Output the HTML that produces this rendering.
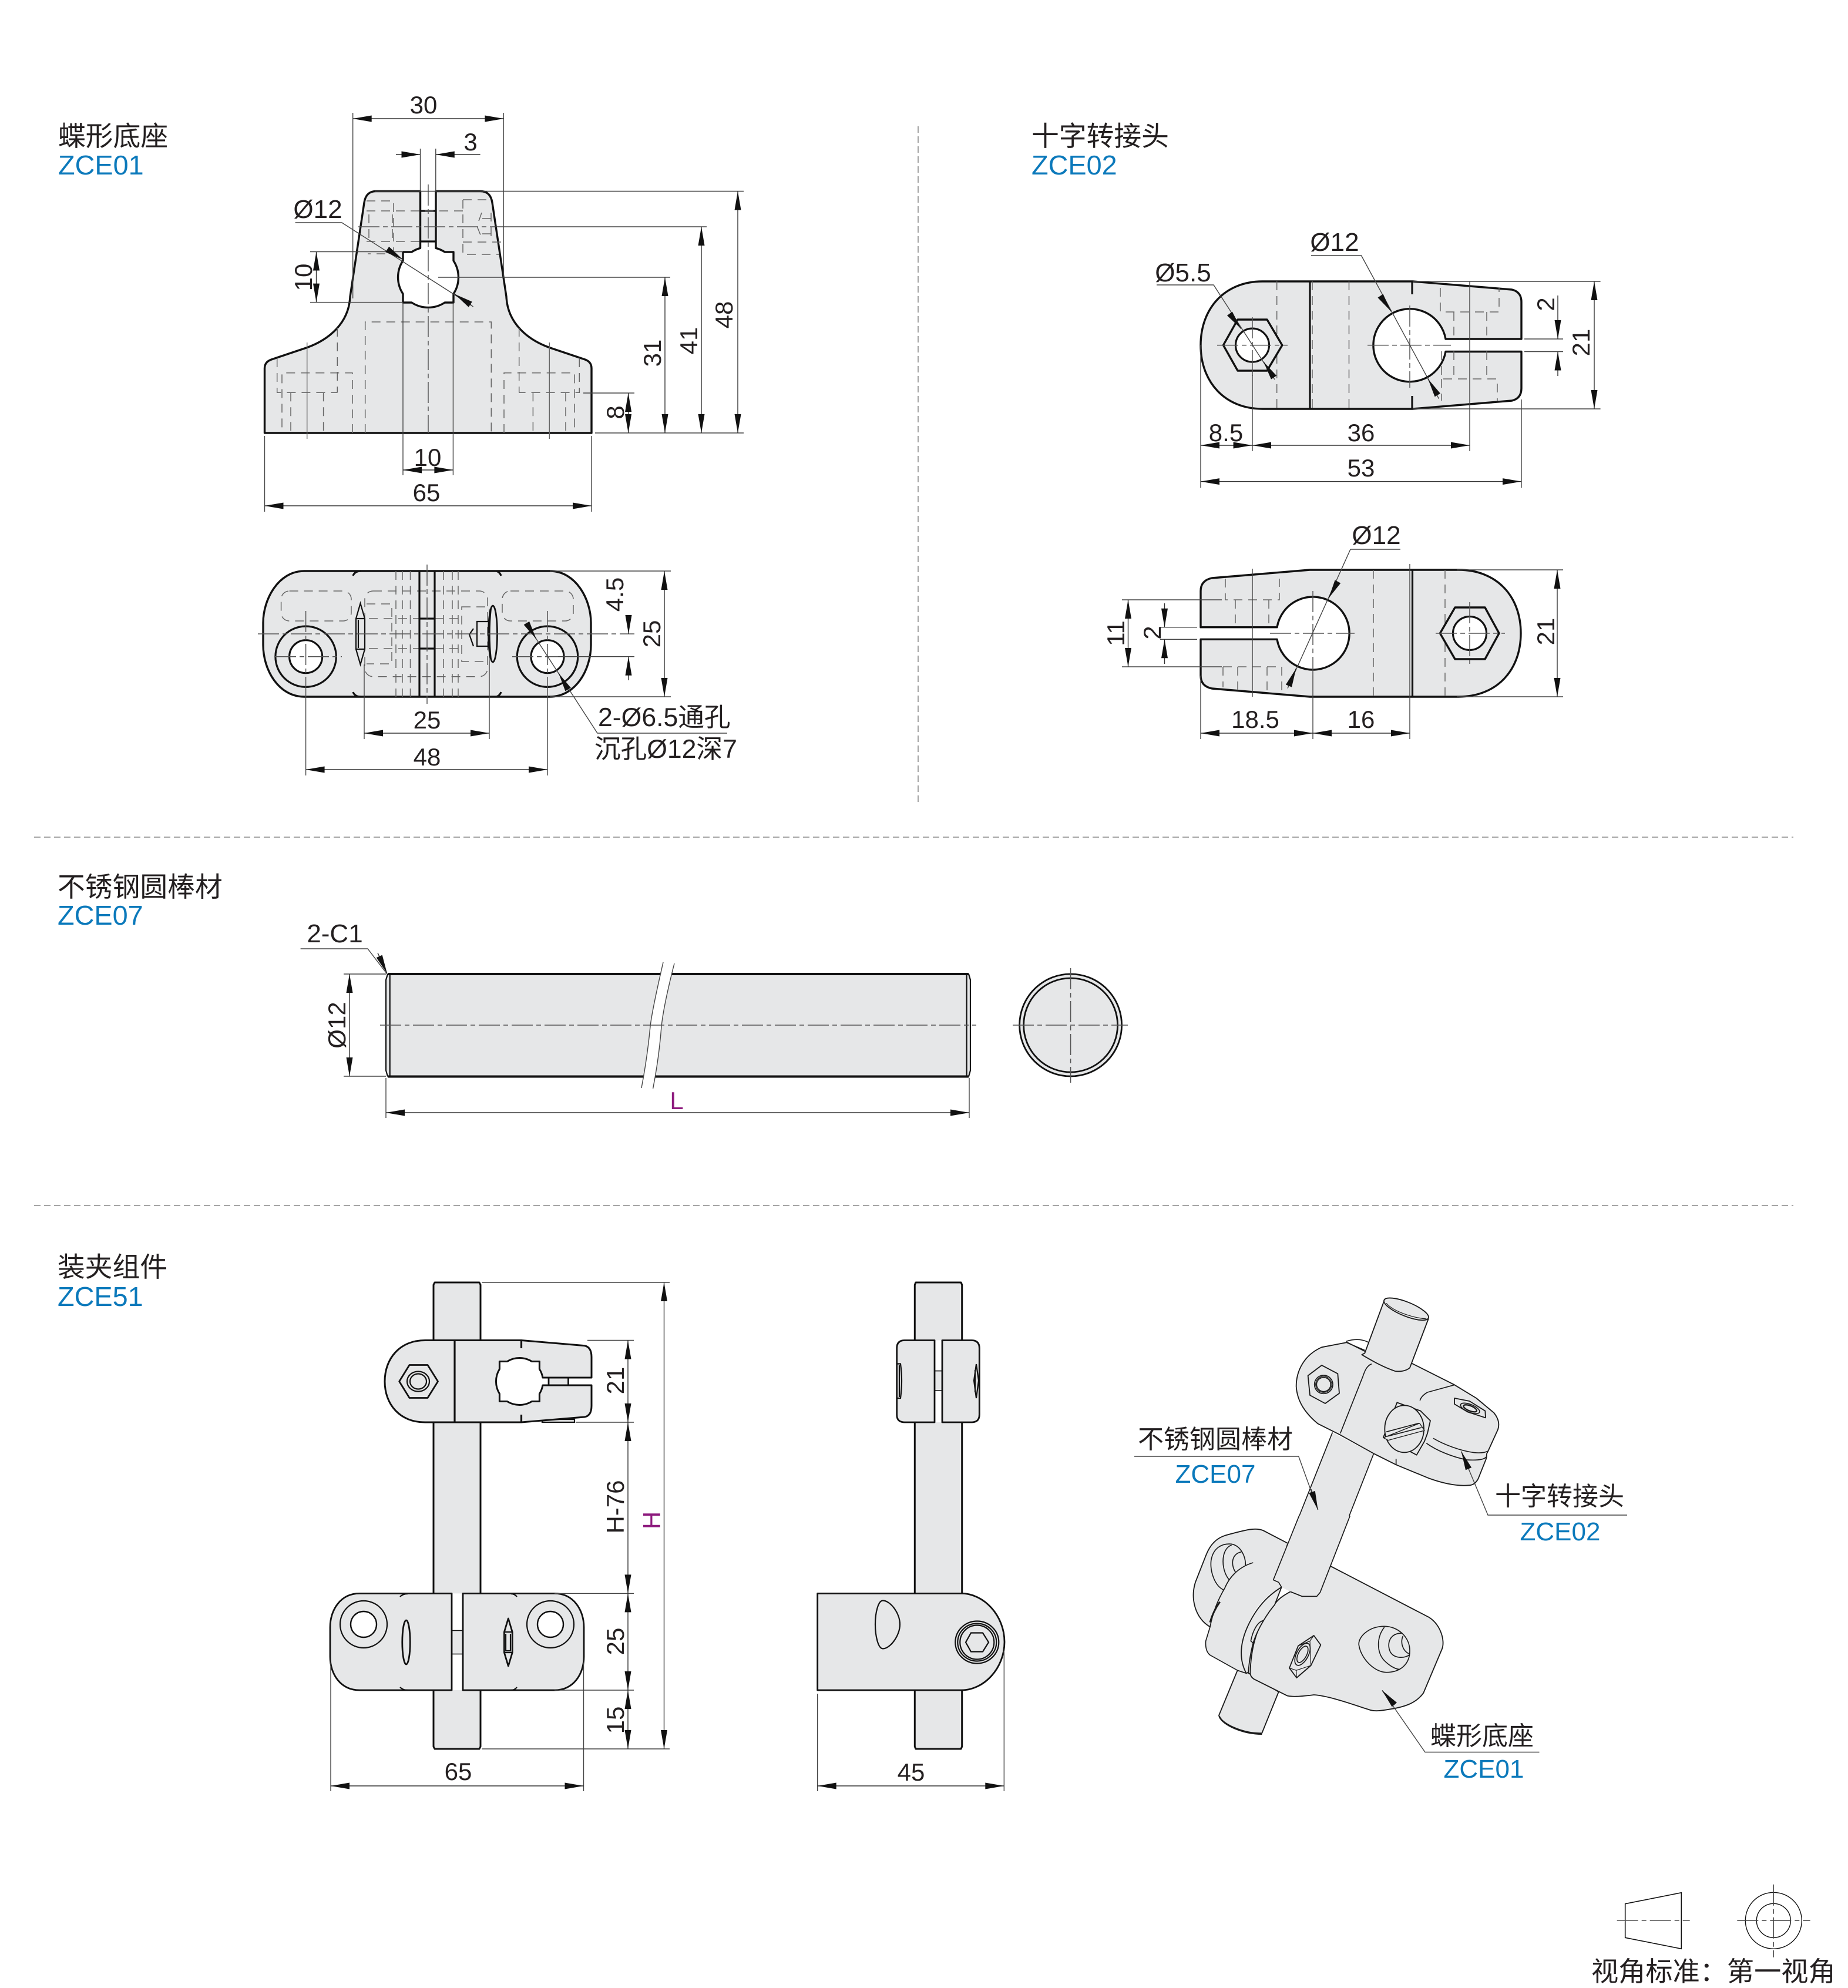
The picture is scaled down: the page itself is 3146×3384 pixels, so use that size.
<!DOCTYPE html>
<html><head><meta charset="utf-8"><style>
html,body{margin:0;padding:0;background:#fff}
svg{display:block}
text{font-family:"Liberation Sans","Noto Sans CJK SC",sans-serif;fill:#231f20;font-size:42px}
.m{text-anchor:middle}
.lb{font-size:46.8px}
.bl{fill:#0b79bb;font-size:46.8px}
.mg{fill:#8e1b7e}
.dia{font-size:44px}
.iso{font-size:44px}
.isb{font-size:44px;fill:#0b79bb}
.o{fill:#e6e7e8;stroke:#111;stroke-width:3.4;stroke-linejoin:round}
.o2{fill:#e6e7e8;stroke:#111;stroke-width:2.8;stroke-linejoin:round}
.n{fill:none;stroke:#111;stroke-width:3.2}
.n2{fill:none;stroke:#111;stroke-width:2.2}
.w{fill:#fff;stroke:#111;stroke-width:3.2}
.r{fill:#e6e7e8;stroke:none}
.th{fill:none;stroke:#444;stroke-width:1.4}
.ds{fill:none;stroke:#666;stroke-width:1.5;stroke-dasharray:15 10}
.cl{fill:none;stroke:#555;stroke-width:1.5;stroke-dasharray:36 6 8 6}
.dv{fill:none;stroke:#999;stroke-width:1.8;stroke-dasharray:11 6}
.dm{fill:none;stroke:#333;stroke-width:1.4;marker-start:url(#a);marker-end:url(#a)}
.me{fill:none;stroke:#333;stroke-width:1.4;marker-end:url(#a)}
.g{fill:#e6e7e8;stroke:#1a1a1a;stroke-width:5.5;stroke-linejoin:round}
.gf{fill:#e6e7e8;stroke:none}
.gl{fill:none;stroke:#1a1a1a;stroke-width:5;stroke-linejoin:round}
.gt{fill:none;stroke:#1a1a1a;stroke-width:3.5}
</style></head><body>
<svg xmlns="http://www.w3.org/2000/svg" width="3146" height="3384" viewBox="0 0 3146 3384">
<defs><marker id="a" markerUnits="userSpaceOnUse" markerWidth="36" markerHeight="14" viewBox="-34 -7 36 14" refX="0" refY="0" orient="auto-start-reverse"><path d="M0,0L-32,-5.5V5.5Z" fill="#111"/></marker></defs>
<rect width="3146" height="3384" fill="#fff"/>

<!-- dividers -->
<path class="dv" d="M1563,215V1366M58,1425H3053M58,2052H3053"/>

<!-- section labels -->
<text class="lb" x="99" y="248">蝶形底座</text><text class="bl" x="99" y="297">ZCE01</text>
<text class="lb" x="1756" y="248">十字转接头</text><text class="bl" x="1756" y="297">ZCE02</text>
<text class="lb" x="98" y="1526">不锈钢圆棒材</text><text class="bl" x="98" y="1574">ZCE07</text>
<text class="lb" x="98" y="2173">装夹组件</text><text class="bl" x="98" y="2223">ZCE51</text>

<!-- VIEW 1 -->
<rect class="r" x="716" y="359" width="26" height="52"/>
<path class="o" d="M450.5,737V627Q450.5,616 462,612L523,591.5C560,578 594,550 596,505L620,345Q623,325.5 640,325.5H715.5V422.3A51.4,51.4 0 0 0 700.8,429H686V443.8A51.4,51.4 0 0 0 686,500.2V515H700.8A51.4,51.4 0 0 0 757.2,515H772V500.2A51.4,51.4 0 0 0 772,443.8V429H757.2A51.4,51.4 0 0 0 742,422.3V325.5H818Q835,325.5 838,345L862,505C864,550 898,578 935,591.5L996,612Q1007,616 1007,627V737Z"/>
<path class="n" d="M716,359H742M716,411H742"/>
<path class="ds" d="M624,342H670V432H626M624,359H715M624,411H715M628,365V410M668,365V410M788,340H838M788,340V433H849M788,359H716M788,412H860M836,362V412M820,362L812,385L820,405M836,372H816M836,398H816"/>
<path class="cl" d="M610,386H838"/>
<path class="ds" d="M621.7,737V548H836.3V737M574.3,558V668.3M883.7,558V668.3"/>
<path class="ds" d="M600,737V634.7H480V737M471.7,610V668.3H574.3M495,668.3V737M550.6,668.3V737"/>
<path class="ds" d="M858,737V634.7H978V737M986.3,610V668.3H883.7M963,668.3V737M907.4,668.3V737"/>
<path class="th" style="stroke:#666" d="M522.7,583V747M935.3,583V747"/>
<path class="th" d="M686,515V809M771.4,515V809"/>
<path class="cl" d="M729,314V737"/>
<path class="th" d="M600.7,192V508M857.4,192V472M715.5,253V325M741.8,253V325M638,325.5H1266M838,386H1203M746,472H1141M993,669H1080M1013,737H1266M528,428.5H686M528,514.6H686M450.5,742V871M1007,742V871"/>
<path class="dm" d="M600.7,202H857.4"/>
<path class="me" d="M674,263H715.5"/><path class="me" d="M817.6,263H741.8"/>
<path class="dm" d="M1256,325.5V737"/><path class="dm" d="M1194,386V737"/><path class="dm" d="M1132,472V737"/><path class="dm" d="M1069.6,669V737"/>
<path class="dm" d="M538.5,428.5V514.6"/><path class="dm" d="M686,800H771.4"/><path class="dm" d="M450.5,861H1007"/>
<path class="th" d="M502.6,379H582L805.6,522"/>
<path class="me" d="M660,425L686,442"/><path class="me" d="M802,519L774,500.6"/>
<text class="m" x="721" y="193">30</text><text class="m" x="801" y="256">3</text>
<text class="m dia" x="541" y="371">Ø12</text>
<text class="m" x="728" y="793">10</text><text class="m" x="726" y="853">65</text>
<text class="m" transform="translate(516,472) rotate(-90)" y="15">10</text>
<text class="m" transform="translate(1047,702) rotate(-90)" y="15">8</text>
<text class="m" transform="translate(1110,601) rotate(-90)" y="15">31</text>
<text class="m" transform="translate(1172,580) rotate(-90)" y="15">41</text>
<text class="m" transform="translate(1232,536) rotate(-90)" y="15">48</text>

<!-- VIEW 2 -->
<path class="o" d="M518,972H936C980,972 1006,1020 1006,1060V1098C1006,1140 980,1186 936,1186H518C474,1186 448,1140 448,1098V1060C448,1020 474,972 518,972Z"/>
<rect class="ds" x="478.6" y="1006" width="119.4" height="51" rx="14"/><rect class="ds" x="855" y="1006" width="121" height="51" rx="14"/>
<rect class="ds" x="621" y="1006" width="209" height="145.7" rx="14"/>
<path class="ds" d="M624,1028H667V1130H624M786,1033H833V1126H786ZM674,972V1186M685,972V1186M698.5,972V1186M755,972V1186M770,972V1186M780,972V1186M628,1053H714M628,1104H714M740,1053H786M740,1104H786"/>
<path class="n" d="M714,972V1186M740,972V1186M714,1053H740M714,1104H740M601,980Q604,972 615,972M845,972Q851,974 853,980M601,1178Q604,1186 615,1186M845,1186Q851,1184 853,1178"/>
<path class="n2" d="M613.5,1027L606,1053V1105L613.5,1131L621,1105V1053ZM606,1053H621M606,1105H621M610,1055V1103M806,1070L799,1080L806,1100M833,1058H812V1100H833"/>
<ellipse class="o2" cx="839" cy="1079" rx="7.5" ry="48"/>
<path class="n2" d="M836,1035Q831,1079 836,1123"/>
<circle class="n" cx="520.6" cy="1117.7" r="51.7"/><circle class="w" cx="520.6" cy="1117.7" r="28"/>
<circle class="n" cx="932" cy="1117.7" r="51.7"/><circle class="w" cx="932" cy="1117.7" r="28"/>
<path class="cl" d="M439,1079H1080M727,961V1198M468,1117.7H582M872,1117.7H988M520.6,1040V1186M932,1040V1186"/>
<path class="th" d="M936,972H1142M936,1186H1142M620,1131V1258M833,1126V1258M520.6,1186V1320M932,1186V1320M950,1117.7H1080"/>
<path class="dm" d="M1131,972V1186"/>
<path class="me" d="M1070,1047V1079"/><path class="me" d="M1070,1158V1117.7"/>
<path class="dm" d="M620,1248H833"/><path class="dm" d="M520.6,1310H932"/>
<path class="th" d="M895,1060L1017,1248H1238"/>
<path class="me" d="M899,1065L913,1088"/><path class="me" d="M965,1170L951,1146"/>
<text class="m" x="727" y="1240">25</text><text class="m" x="727" y="1303">48</text>
<text class="m" transform="translate(1046,1012) rotate(-90)" y="15">4.5</text>
<text class="m" transform="translate(1109,1079) rotate(-90)" y="15">25</text>
<text x="1018" y="1236" style="font-size:44.6px">2-Ø6.5通孔</text>
<text x="1012" y="1290" style="font-size:44.6px">沉孔Ø12深7</text>

<!-- VIEW 3 -->
<path class="o" d="M2149,479H2405L2574,493Q2590,497 2590,514V577H2461A62,62 0 1 0 2461,598.5H2590V661Q2590,678 2574,682L2405,696H2149C2085,696 2044,650 2044,587.6C2044,525 2085,479 2149,479Z"/>
<path class="n" d="M2230,479V696M2404,479V501M2404,674V696"/>
<path class="ds" d="M2173.7,479V696M2296.5,479V696M2234,479V696M2452,490V531H2552V490M2475,531V577M2531,531V577M2454,598V645H2549V683M2475,598V645M2531,598V645M2454,645V682"/>
<path class="o" d="M2082.5,587.6L2107,544H2157L2182.8,587.6L2157,631H2107Z"/>
<circle class="w" cx="2132" cy="587.6" r="28.5"/>
<path class="cl" d="M2072,587.6H2192M2328,587.6H2470M2400,520V660M2132,540V640"/>
<path class="th" d="M2502,479V768M2132,631V768M2405,479H2724.6M2405,696H2724.6M2595,577H2661M2595,598.5H2661M2044,587V830.5M2590,680V830.5M2232,435H2317.5L2449.5,678.7M1969,485H2066L2170,646"/>
<path class="me" d="M2351,505L2368,530"/><path class="me" d="M2447,672L2431,645"/>
<path class="me" d="M2096.5,538L2112.6,559.4"/><path class="me" d="M2166.7,639.7L2151,615.8"/>
<path class="dm" d="M2714,479V696"/>
<path class="me" d="M2652,503V577"/><path class="me" d="M2652,640V598.5"/>
<path class="dm" d="M2044,758H2131.6"/><path class="dm" d="M2132,758H2502"/><path class="dm" d="M2044,819.6H2590"/>
<text class="m" x="2087" y="751">8.5</text><text class="m" x="2317" y="751">36</text><text class="m" x="2317" y="811">53</text>
<text class="m dia" x="2014" y="479">Ø5.5</text><text class="m dia" x="2272" y="427">Ø12</text>
<text class="m" transform="translate(2631,518) rotate(-90)" y="15">2</text>
<text class="m" transform="translate(2691,583) rotate(-90)" y="15">21</text>

<!-- VIEW 4 -->
<path class="o" d="M2063,984L2230,970H2483C2548,970 2589,1015 2589,1078C2589,1141 2548,1186 2483,1186H2230L2063,1172Q2044,1168 2044,1150V1088.3H2174A62,62 0 1 0 2174,1067.7H2044V1006Q2044,988 2063,984Z"/>
<path class="n" d="M2404.5,970V1186"/>
<path class="ds" d="M2338,970V1186M2460,970V1186M2086,985V1021H2178V985M2103,1021V1067M2160,1021V1067M2082,1135H2182V1175M2082,1135V1170M2107,1135V1176M2157,1135V1182"/>
<path class="o" d="M2451.5,1078L2477,1034H2528L2552,1078L2528,1122H2477Z"/>
<circle class="w" cx="2502" cy="1078" r="28.5"/>
<path class="cl" d="M2162,1078H2306M2444,1078H2562M2235,1006V1150M2502,1025V1130"/>
<path class="th" d="M2132,968V1186M2235,1150V1258M2400,960V1258M2044,1150V1258M2480,970H2661M2480,1186H2661M1910,1021H2080M1910,1135H2080M1975,1067.7H2038M1975,1088.3H2038M2299,935H2384M2299,935L2192,1171.7"/>
<path class="me" d="M2276.5,991.7L2262,1018"/><path class="me" d="M2195,1165L2206.4,1138"/>
<path class="dm" d="M2651,970V1186"/><path class="dm" d="M1920.5,1021V1135"/>
<path class="me" d="M1982.5,1027V1067.7"/><path class="me" d="M1982.5,1130V1088.3"/>
<path class="dm" d="M2044,1248H2235"/><path class="dm" d="M2235,1248H2400"/>
<text class="m" x="2137" y="1239">18.5</text><text class="m" x="2317" y="1239">16</text>
<text class="m dia" x="2343" y="926">Ø12</text>
<text class="m" transform="translate(1899,1078) rotate(-90)" y="15">11</text>
<text class="m" transform="translate(1961,1077) rotate(-90)" y="15">2</text>
<text class="m" transform="translate(2631,1075) rotate(-90)" y="15">21</text>

<!-- ROD -->
<path class="r" d="M660,1658H1649L1652,1670V1820L1649,1832H660L657,1820V1670Z"/>
<path class="n" d="M660,1658H1649M660,1832.5H1649" style="stroke-width:4"/>
<path class="n2" d="M660,1658L657,1668V1822L660,1832.5M663.7,1658V1832.5M1645.6,1658V1832.5M1649,1658L1652,1668V1822L1649,1832.5"/>
<path d="M1129,1638Q1110,1720 1107,1747Q1102,1800 1092,1852L1111.6,1853Q1122,1800 1126,1747Q1130,1710 1148,1640Z" fill="#fff" stroke="none"/>
<path class="th" d="M1129,1638Q1110,1720 1107,1747Q1102,1800 1092,1852M1148,1640Q1130,1710 1126,1747Q1122,1800 1111.6,1853"/>
<path class="cl" d="M647,1745H1662"/>
<circle class="o2" cx="1822.6" cy="1745" r="87"/><circle class="o2" cx="1822.6" cy="1745" r="80"/>
<path class="cl" d="M1724,1745H1920M1822.6,1648V1843"/>
<path class="th" d="M585,1658H657M585,1832H657M657,1835V1903M1650,1835V1903M511.6,1615H626L659,1658"/>
<path class="dm" d="M595,1658V1832"/><path class="dm" d="M657,1894H1650"/>
<path class="me" d="M643,1622L659,1657"/>
<text class="m" x="570" y="1604" style="font-size:44px">2-C1</text>
<text class="m mg" x="1152" y="1888">L</text>
<text class="m" transform="translate(573,1745) rotate(-90)" y="15">Ø12</text>

<!-- FRONT ASSEMBLY -->
<path class="o" d="M740,2183H816L818,2187V2973L816,2977H740L738,2973V2187Z" style="stroke-width:3"/>
<rect class="o2" x="934" y="2345" width="33.5" height="13"/>
<path class="n2" d="M923,2416H978V2421H923Z" style="fill:#e6e7e8"/>
<path class="o" style="stroke-width:3" d="M723.7,2281.5H887.5L995,2290.6Q1007,2293 1007,2310V2345H923.9A40,40 0 0 0 918.4,2330.5V2317.5H905.4A40,40 0 0 0 863.4,2317.5H850.4V2330.5A40,40 0 0 0 850.4,2372.5V2385.5H863.4A40,40 0 0 0 905.4,2385.5H918.4V2372.5A40,40 0 0 0 923.9,2358H1007V2393Q1007,2410 995,2412L887.5,2421H723.7C680,2421 655,2390 655,2351.5C655,2313 680,2281.5 723.7,2281.5Z"/>
<path class="n" d="M774,2281.5V2421"/>
<path class="o2" d="M679.7,2351.5L697,2323.5H728L745.5,2351.5L728,2379.5H697Z"/>
<ellipse class="n2" cx="712" cy="2351.5" rx="19" ry="17"/><ellipse class="n2" cx="712" cy="2351.5" rx="14" ry="13"/>
<path class="n" d="M887.5,2281V2295M887.5,2408V2421"/>
<rect x="769" y="2712.4" width="19" height="164.6" fill="#fff"/>
<rect class="o2" x="769" y="2775.5" width="19" height="40" style="stroke-width:1.6"/>
<path class="o2" d="M612,2712.4H769V2877H612C580,2877 562,2850 562,2820V2770C562,2740 580,2712.4 612,2712.4Z"/>
<path class="o2" d="M788,2712.4H944C976,2712.4 994,2740 994,2770V2820C994,2850 976,2877 944,2877H788Z"/>
<circle class="n2" cx="619" cy="2765" r="40"/><circle class="w" cx="619" cy="2765" r="22" style="stroke-width:2.4"/>
<circle class="n2" cx="937" cy="2765" r="40"/><circle class="w" cx="937" cy="2765" r="22" style="stroke-width:2.4"/>
<ellipse class="o2" cx="691.5" cy="2795.5" rx="6.7" ry="37.5"/>
<path class="o2" d="M865.3,2755L858.4,2778V2813L865.3,2836L872.2,2813V2778Z"/>
<path class="n2" d="M858.4,2778H872.2M858.4,2813H872.2M861,2781V2810H869V2781"/>
<path class="n2" d="M681,2718Q686,2713 694,2713M870,2713Q876,2713 880,2718M681,2872Q686,2877 694,2877M870,2877Q876,2877 880,2872"/>
<path class="th" d="M820.5,2183H1140M820.5,2977H1140M1000,2281.5H1079M980,2421H1079M944,2712.4H1079M944,2877H1079M563,2830V3049M993.5,2830V3049"/>
<path class="dm" d="M1069,2281.5V2421"/><path class="dm" d="M1069,2421V2712.4"/><path class="dm" d="M1069,2712.4V2877"/><path class="dm" d="M1069,2877V2977"/>
<path class="dm" d="M1130.5,2183V2977"/><path class="dm" d="M563,3040H993.5"/>
<text class="m" x="780" y="3030">65</text>
<text class="m" transform="translate(1047,2350) rotate(-90)" y="15">21</text>
<text class="m" transform="translate(1047,2565) rotate(-90)" y="15">H-76</text>
<text class="m" transform="translate(1047,2794) rotate(-90)" y="15">25</text>
<text class="m" transform="translate(1047,2928) rotate(-90)" y="15">15</text>
<text class="m mg" transform="translate(1109,2588) rotate(-90)" y="15">H</text>

<!-- SIDE VIEW -->
<path class="o" d="M1559,2183H1636L1637.7,2187V2973L1636,2977H1559L1557.3,2973V2187Z" style="stroke-width:3"/>
<rect x="1591" y="2281.5" width="13" height="139.5" fill="#fff"/>
<rect class="o2" x="1591" y="2333.6" width="13" height="33.4" style="stroke-width:1.6"/>
<path class="o2" d="M1591,2281.5H1540Q1526.7,2281.5 1526.7,2295V2408Q1526.7,2421 1540,2421H1591Z"/>
<path class="o2" d="M1604,2281.5H1654Q1667.3,2281.5 1667.3,2295V2408Q1667.3,2421 1654,2421H1604Z"/>
<path class="n2" d="M1527,2321.5H1533Q1537,2350 1533,2380H1527M1531,2324V2378"/>
<path class="n2" d="M1662,2322L1658,2350L1662,2380L1666,2350ZM1660,2332V2370"/>
<path class="o2" d="M1391.7,2712.4H1636.7C1675,2712.4 1710,2750 1710,2795C1710,2840 1675,2877 1636.7,2877H1391.7Z"/>
<path class="n2" d="M1503,2724.5C1515,2724.5 1532,2745 1532,2765C1532,2785 1515,2806.4 1503,2806.4C1495,2806.4 1490,2785 1490,2765C1490,2745 1495,2724.5 1503,2724.5Z"/>
<ellipse class="n2" cx="1663.3" cy="2795.5" rx="37" ry="36"/><ellipse class="n2" cx="1663.3" cy="2795.5" rx="33" ry="32"/><ellipse class="n2" cx="1663.3" cy="2795.5" rx="29" ry="29"/>
<path class="n2" d="M1644,2795.5L1653,2779.5H1673L1683,2795.5L1673,2811.5H1653Z"/>
<path class="th" d="M1391.7,2883V3049M1709.3,2810V3049"/>
<path class="dm" d="M1391.7,3040H1709.3"/>
<text class="m" x="1551" y="3031">45</text>

<!-- ISOMETRIC lower part -->
<g transform="translate(2010,2580) scale(0.33333)">
<path class="g" d="M545,140L420,75C380,60 340,70 230,100C180,115 150,150 130,200L75,340C50,420 70,520 150,568L400,400Z"/>
<path class="gl" d="M225,382C170,360 150,280 155,230C165,165 210,140 260,145C310,155 335,215 330,260"/>
<path class="gl" d="M255,335C205,290 200,170 260,150M285,295C255,260 255,195 310,185"/>
<path class="g" d="M290,790L195,1020C205,1060 320,1115 415,1110L500,900L340,800Z"/>
<path d="M197,1025C215,1070 320,1115 415,1115" fill="none" stroke="#1a1a1a" stroke-width="8"/>
<path class="gf" d="M370,240C300,260 250,310 225,370C190,430 165,490 150,568L128,640C125,680 135,700 150,712L290,790L335,805C295,740 305,640 350,540C390,450 450,400 515,365L500,340L470,330L545,140Z"/>
<path class="gl" d="M370,240C300,260 250,310 225,370C190,430 165,490 150,568L128,640C125,680 135,700 150,712L290,790L335,805"/>
<path d="M200,440Q165,490 150,545" fill="none" stroke="#1a1a1a" stroke-width="9"/>
<path class="g" d="M470,465C400,540 360,650 355,800C355,815 360,825 375,835L545,920C570,925 600,925 680,915C760,920 880,965 960,990C1000,1005 1050,990 1090,985C1140,975 1200,960 1240,905L1335,680C1350,640 1330,560 1270,520L760,255L700,400L620,412L560,388C530,405 500,420 470,465Z"/>
<path class="g" d="M515,365C440,410 380,480 340,570C300,660 300,740 335,805L345,800C350,760 350,730 370,650C395,570 450,490 480,455Z"/>
<path class="gl" d="M425,535C395,540 370,580 358,640L370,650"/>
<path class="gf" d="M605,0H865L712,392L695,412H620L560,388L515,365L500,340L475,328Z"/>
<path class="gl" d="M605,0L473,328L500,340L515,365M560,388L620,412L695,412L712,392L865,0"/>
<path class="g" d="M680,612L715,660L665,765L592,828L555,778L600,665Z"/>
<path class="gl" d="M600,665L660,640L680,612M660,640L665,765M555,778L590,790L665,765M590,790L592,828" style="stroke-width:3.5"/>
<ellipse class="gl" cx="622" cy="708" rx="30" ry="62" transform="rotate(28 622 708)"/>
<ellipse class="gl" cx="622" cy="708" rx="21" ry="46" transform="rotate(28 622 708)"/>
<path class="gl" d="M910,660C905,620 960,565 1040,565C1110,565 1170,620 1170,690C1170,760 1120,800 1050,800C990,800 920,730 910,660Z"/>
<path class="gl" d="M1040,570C1000,620 1000,700 1040,740C1070,770 1100,785 1120,785M1130,600C1070,600 1050,650 1070,695C1090,730 1140,730 1170,710M1135,615C1120,650 1135,690 1165,705"/>
</g>

<!-- ISOMETRIC upper part -->
<g transform="translate(2180,2200) scale(0.33333)">
<path class="gf" d="M265,715L475,825L351,1140H96Z"/>
<path class="gl" d="M265,715L96,1140M475,825L351,1140"/>
<path class="gl" d="M335,250C380,235 420,240 450,255"/>
<path class="g" d="M430,300L340,255L210,280C120,320 80,400 80,480C85,560 130,620 190,670L300,725L480,825L590,880L760,950C830,975 900,990 960,985C985,985 1000,970 1010,950L1050,850C1055,835 1050,825 1055,820L1060,810L1110,700C1120,670 1110,640 1090,615L1000,540L885,470L670,362Z"/>
<path class="gl" d="M745,770C800,810 880,840 950,855C1000,858 1040,855 1050,840M780,745C830,775 920,810 990,818C1030,822 1050,815 1060,810M335,255L430,295"/>
<path class="g" d="M430,310L530,40L755,135L660,385C640,402 610,405 585,402C520,380 470,350 415,318Z"/>
<ellipse class="g" cx="642" cy="85" rx="122" ry="36" transform="rotate(22 642 85)"/>
<path class="gt" d="M540,55C580,100 680,130 745,135"/>
<path class="gl" d="M465,365C440,375 430,400 420,430L305,720M885,473L750,510C725,525 715,540 712,552M590,850V880"/>
<path class="g" d="M210,372L292,415L300,515L228,567L150,525L140,425Z"/>
<circle class="gl" cx="220" cy="470" r="47"/><circle class="gt" cx="220" cy="470" r="41"/><circle class="gl" cx="220" cy="470" r="36"/>
<path class="g" d="M595,562L715,605L765,655L750,720L735,760L695,830L525,740Z"/>
<ellipse class="g" cx="632" cy="697" rx="100" ry="120"/>
<path class="g" d="M525,742L710,668L735,705L550,755Z" style="stroke-width:4"/>
<path class="gl" d="M540,712L705,668M545,735L720,690"/>
<path class="g" d="M888,540L965,555L1045,605L1047,640L955,610L888,570Z"/>
<ellipse class="gl" cx="968" cy="592" rx="52" ry="20" transform="rotate(22 968 592)"/>
<ellipse class="gl" cx="968" cy="592" rx="36" ry="13" transform="rotate(22 968 592)" style="stroke-width:7"/>
</g>

<path class="th" d="M1931,2479H2210.7L2243.6,2570M2770,2579H2533L2487.7,2470.7M2620.5,2982.5H2426L2353,2877.5"/>
<path class="me" d="M2232,2535L2243.6,2570"/><path class="me" d="M2500,2500L2487.7,2470.7"/><path class="me" d="M2374,2902L2353,2877.5"/>
<text class="iso m" x="2069" y="2465">不锈钢圆棒材</text><text class="isb m" x="2069" y="2524">ZCE07</text>
<text class="iso m" x="2655" y="2562">十字转接头</text><text class="isb m" x="2656" y="2622">ZCE02</text>
<text class="iso m" x="2523" y="2970">蝶形底座</text><text class="isb m" x="2526" y="3026">ZCE01</text>

<!-- VIEW SYMBOL -->
<path class="n2" style="stroke-width:1.6" d="M2766.7,3240.7L2862.3,3221.7V3317.3L2766.7,3298.3Z"/>
<path class="cl" style="stroke-width:1.3" d="M2752.7,3269.3H2876.7"/>
<circle class="n2" style="stroke-width:1.4" cx="3019.3" cy="3269.3" r="48"/><circle class="n2" style="stroke-width:1.4" cx="3019.3" cy="3269.3" r="29"/>
<path class="th" style="stroke-dasharray:36 6 8 6" d="M2957.3,3269.3H3081.7M3019.3,3207.7V3331.7"/>
<text x="2709" y="3372" style="font-size:46.2px">视角标准：第一视角</text>
</svg>
</body></html>
